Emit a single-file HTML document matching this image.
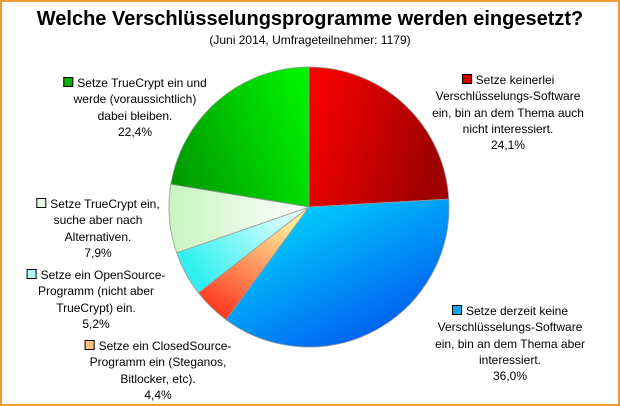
<!DOCTYPE html>
<html><head><meta charset="utf-8"><style>
body{margin:0;background:#fff}
#c{position:relative;width:616px;height:402px;border:2px solid #f39a34;background:#fff;font-family:"Liberation Sans",sans-serif;overflow:hidden}
.t{position:absolute;left:0;width:616px;text-align:center}
.lab{position:absolute;font-size:12px;line-height:16.3px;text-align:center;color:#000;white-space:nowrap;transform:translateX(-50%)}
.sw{display:inline-block;width:8px;height:8px;border:1px solid #000;margin-right:4px;vertical-align:0}
</style></head><body>
<div id="c">
<div class="t" style="top:6px;font-size:20px;font-weight:bold">Welche Verschlüsselungsprogramme werden eingesetzt?</div>
<div class="t" style="top:31px;font-size:12px">(Juni 2014, Umfrageteilnehmer: 1179)</div>
<svg id="pie" width="616" height="402" style="position:absolute;left:0;top:0">
<defs>
<linearGradient id="g0" x1="0" y1="0" x2="1" y2="0.3"><stop offset="0" stop-color="#ff0000"/><stop offset="1" stop-color="#a00000"/></linearGradient>
<linearGradient id="g1" x1="0" y1="0" x2="0.8" y2="1"><stop offset="0" stop-color="#00ebff"/><stop offset="1" stop-color="#0050f0"/></linearGradient>
<linearGradient id="g2" x1="0" y1="1" x2="0.6" y2="0"><stop offset="0" stop-color="#ff2010"/><stop offset="1" stop-color="#ffee99"/></linearGradient>
<linearGradient id="g3" x1="0" y1="0.5" x2="1" y2="0"><stop offset="0" stop-color="#30f0f0"/><stop offset="1" stop-color="#ffffff"/></linearGradient>
<linearGradient id="g4" x1="0" y1="0.5" x2="1" y2="0.5"><stop offset="0" stop-color="#c8f5c0"/><stop offset="1" stop-color="#ffffff"/></linearGradient>
<linearGradient id="g5" x1="0" y1="0.7" x2="1" y2="0.3"><stop offset="0" stop-color="#009a00"/><stop offset="1" stop-color="#00f000"/></linearGradient>
</defs>
</svg>
<div class="lab" style="left:506px;top:70px"><span class="sw" style="background:#d00000"></span>Setze keinerlei<br>Verschlüsselungs-Software<br>ein, bin an dem Thema auch<br>nicht interessiert.<br>24,1%</div>
<div class="lab" style="left:508px;top:301px"><span class="sw" style="background:#19a0e8"></span>Setze derzeit keine<br>Verschlüsselungs-Software<br>ein, bin an dem Thema aber<br>interessiert.<br>36,0%</div>
<div class="lab" style="left:156px;top:336px"><span class="sw" style="background:#ffc080"></span>Setze ein ClosedSource-<br>Programm ein (Steganos,<br>Bitlocker, etc).<br>4,4%</div>
<div class="lab" style="left:94px;top:265px"><span class="sw" style="background:#b0f8f8"></span>Setze ein OpenSource-<br>Programm (nicht aber<br>TrueCrypt) ein.<br>5,2%</div>
<div class="lab" style="left:96px;top:194px"><span class="sw" style="background:#eefaea"></span>Setze TrueCrypt ein,<br>suche aber nach<br>Alternativen.<br>7,9%</div>
<div class="lab" style="left:133px;top:73px"><span class="sw" style="background:#10b010"></span>Setze TrueCrypt ein und<br>werde (voraussichtlich)<br>dabei bleiben.<br>22,4%</div>
</div>
<script>
const categories=["keinerlei","derzeit-keine","closedsource","opensource","truecrypt-alternativen","truecrypt-bleiben"];
const values=[24.1,36.0,4.4,5.2,7.9,22.4];
const fills=["url(#g0)","url(#g1)","url(#g2)","url(#g3)","url(#g4)","url(#g5)"];
const svg=document.getElementById('pie');
const cx=307,cy=205,r=140;
const total=values.reduce((a,b)=>a+b,0);
let a0=0;
values.forEach((v,i)=>{
  const a1=a0+v/total*2*Math.PI;
  const x0=cx+r*Math.sin(a0),y0=cy-r*Math.cos(a0),x1=cx+r*Math.sin(a1),y1=cy-r*Math.cos(a1);
  const p=document.createElementNS('http://www.w3.org/2000/svg','path');
  p.setAttribute('d',`M${cx},${cy}L${x0},${y0}A${r},${r} 0 ${a1-a0>Math.PI?1:0} 1 ${x1},${y1}Z`);
  p.setAttribute('fill',fills[i]);
  p.setAttribute('stroke','#999');
  p.setAttribute('stroke-width','0.8');
  
  
  svg.appendChild(p);
  a0=a1;
});
</script>
</body></html>
